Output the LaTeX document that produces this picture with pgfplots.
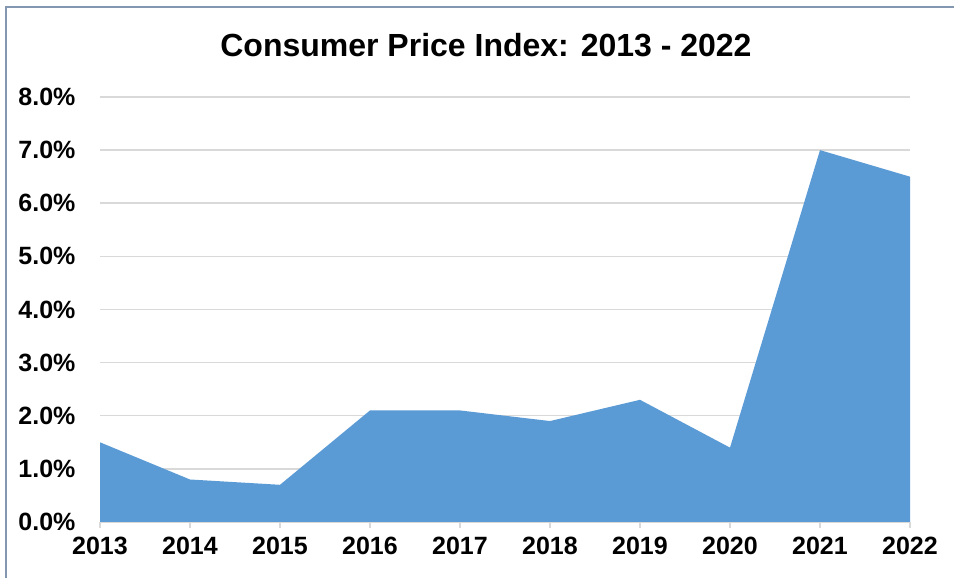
\documentclass[border=0pt]{standalone}
\usepackage{pgfplots}
\pgfplotsset{compat=1.18}
\usepackage{fontspec}
\setmainfont{Liberation Sans}
\definecolor{areablue}{HTML}{5B9BD5}
\definecolor{gridgray}{HTML}{D9D9D9}
\definecolor{framegray}{HTML}{8497B0}
\begin{document}
\begin{tikzpicture}[x=1pt,y=1pt]
\useasboundingbox (0,0) rectangle (954,578);
\fill[white] (0,0) rectangle (954,578);
\draw[framegray, line width=1.5pt] (6,0) -- (6,571) -- (954,571);
\node[font=\fontsize{32}{36}\selectfont\bfseries, anchor=center] at (486,533) {Consumer Price Index: 2013 - 2022};
\begin{axis}[
  at={(100pt,56pt)}, anchor=origin,
  scale only axis, width=810pt, height=425pt,
  xmin=2013, xmax=2022, ymin=0, ymax=8,
  axis x line*=bottom, axis y line*=left,
  x axis line style={gridgray, line width=2pt, -},
  y axis line style={draw=none},
  xtick={2013,...,2022},
  xticklabels={2013,2014,2015,2016,2017,2018,2019,2020,2021,2022},
  ytick={0,1,...,8},
  yticklabels={0.0\%,1.0\%,2.0\%,3.0\%,4.0\%,5.0\%,6.0\%,7.0\%,8.0\%},
  ymajorgrids, grid style={gridgray, line width=1.5pt},
  major tick length=6pt,
  tick align=outside,
  xtick style={gridgray, line width=1.5pt},
  ytick style={draw=none},
  ticklabel style={font=\fontsize{25}{28}\selectfont\bfseries},
  xticklabel style={yshift=-6pt},
  yticklabel style={xshift=-15pt},
  clip=false,
]
\addplot[fill=areablue, draw=none] coordinates {
(2013,1.5) (2014,0.8) (2015,0.7) (2016,2.1) (2017,2.1) (2018,1.9) (2019,2.3) (2020,1.4) (2021,7.0) (2022,6.5)
} \closedcycle;
\end{axis}
\end{tikzpicture}
\end{document}
